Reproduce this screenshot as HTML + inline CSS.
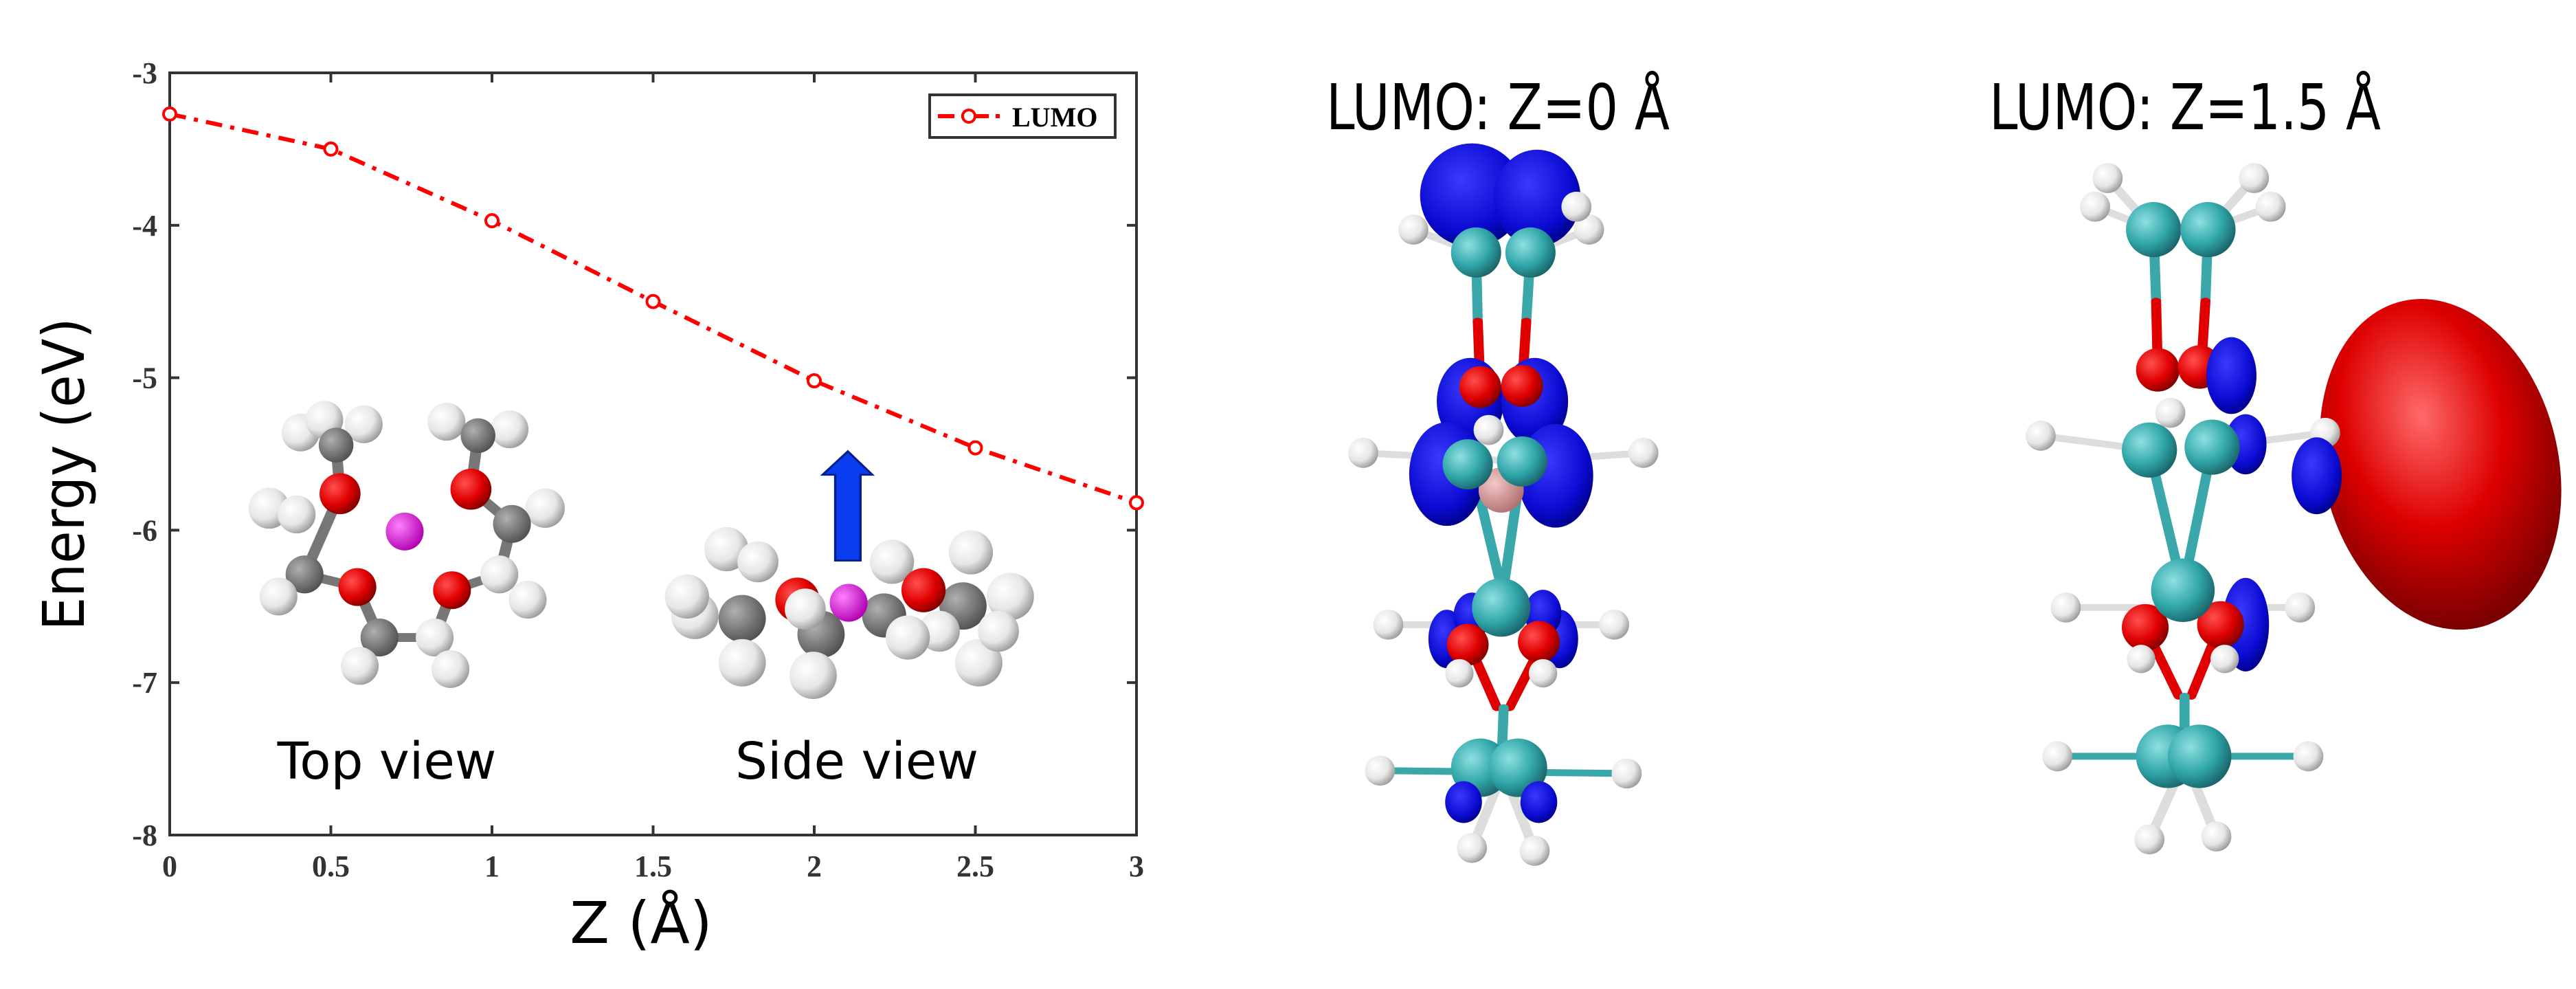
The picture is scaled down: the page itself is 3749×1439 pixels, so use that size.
<!DOCTYPE html>
<html><head><meta charset="utf-8"><style>
html,body{margin:0;padding:0;background:#fff;}
svg{display:block;}
</style></head><body>
<svg width="3749" height="1439" viewBox="0 0 3749 1439" xmlns="http://www.w3.org/2000/svg">
<defs>
<radialGradient id="gW" cx="35%" cy="35%" r="70%"><stop offset="0" stop-color="#ffffff"/><stop offset="0.6" stop-color="#e6e6e6"/><stop offset="1" stop-color="#9a9a9a"/></radialGradient>
<radialGradient id="gG" cx="35%" cy="35%" r="70%"><stop offset="0" stop-color="#b0b0b0"/><stop offset="1" stop-color="#505050"/></radialGradient>
<radialGradient id="gR" cx="35%" cy="35%" r="70%"><stop offset="0" stop-color="#ff5050"/><stop offset="0.6" stop-color="#e00000"/><stop offset="1" stop-color="#800000"/></radialGradient>
<radialGradient id="gM" cx="35%" cy="35%" r="70%"><stop offset="0" stop-color="#ff80ff"/><stop offset="1" stop-color="#b000b0"/></radialGradient>
<radialGradient id="gC" cx="35%" cy="35%" r="70%"><stop offset="0" stop-color="#8ee0e0"/><stop offset="0.6" stop-color="#2fa5a8"/><stop offset="1" stop-color="#1a6468"/></radialGradient>
<radialGradient id="gB" cx="40%" cy="35%" r="70%"><stop offset="0" stop-color="#3a3aff"/><stop offset="0.7" stop-color="#0a0ad0"/><stop offset="1" stop-color="#000080"/></radialGradient>
<radialGradient id="gBig" cx="45%" cy="35%" r="75%"><stop offset="0" stop-color="#ff6a6a"/><stop offset="0.45" stop-color="#dd0000"/><stop offset="1" stop-color="#5a0000"/></radialGradient>
<radialGradient id="gP" cx="35%" cy="35%" r="70%"><stop offset="0" stop-color="#f5c8c8"/><stop offset="1" stop-color="#b07070"/></radialGradient>
</defs>

<!-- ===== left inset molecules (zoom1 coords) ===== -->
<g transform="translate(1.4,0.4) scale(1.1476,0.918)">
 <g class="iso" stroke="#777" stroke-width="14" stroke-linecap="round">
  <polyline fill="none" points="425,705 430,782 385,910 452,930 480,1010 550,1010 572,935 632,910 648,830 596,775 605,690"/>
  <g stroke="none">
   <circle cx="380" cy="685" r="24" fill="url(#gW)"/><circle cx="410" cy="665" r="24" fill="url(#gW)"/><circle cx="460" cy="672" r="24" fill="url(#gW)"/>
   <circle cx="565" cy="668" r="24" fill="url(#gW)"/><circle cx="645" cy="680" r="24" fill="url(#gW)"/>
   <circle cx="425" cy="705" r="22" fill="url(#gG)"/><circle cx="605" cy="690" r="22" fill="url(#gG)"/>
   <circle cx="340" cy="805" r="26" fill="url(#gW)"/><circle cx="375" cy="815" r="24" fill="url(#gW)"/>
   <circle cx="430" cy="782" r="26" fill="url(#gR)"/><circle cx="596" cy="775" r="26" fill="url(#gR)"/>
   <circle cx="690" cy="805" r="25" fill="url(#gW)"/><circle cx="648" cy="830" r="24" fill="url(#gG)"/>
   <circle cx="385" cy="910" r="24" fill="url(#gG)"/><circle cx="352" cy="945" r="24" fill="url(#gW)"/>
   <circle cx="632" cy="910" r="24" fill="url(#gW)"/><circle cx="668" cy="950" r="24" fill="url(#gW)"/>
   <circle cx="452" cy="930" r="24" fill="url(#gR)"/><circle cx="572" cy="935" r="24" fill="url(#gR)"/>
   <circle cx="480" cy="1010" r="24" fill="url(#gG)"/><circle cx="550" cy="1010" r="24" fill="url(#gW)"/>
   <circle cx="455" cy="1055" r="24" fill="url(#gW)"/><circle cx="570" cy="1060" r="24" fill="url(#gW)"/>
   <circle cx="512" cy="842" r="24" fill="url(#gM)"/>
  </g>
 </g>
 <g class="iso">
  <circle cx="880" cy="975" r="30" fill="url(#gW)"/><circle cx="870" cy="945" r="28" fill="url(#gW)"/>
  <circle cx="920" cy="870" r="28" fill="url(#gW)"/><circle cx="960" cy="890" r="26" fill="url(#gW)"/>
  <circle cx="1230" cy="875" r="28" fill="url(#gW)"/><circle cx="1280" cy="945" r="30" fill="url(#gW)"/>
  <circle cx="1130" cy="890" r="28" fill="url(#gW)"/>
  <circle cx="940" cy="980" r="30" fill="url(#gG)"/><circle cx="1220" cy="960" r="30" fill="url(#gG)"/>
  <circle cx="1010" cy="950" r="28" fill="url(#gR)"/><circle cx="1170" cy="935" r="28" fill="url(#gR)"/>
  <circle cx="1120" cy="975" r="28" fill="url(#gG)"/><circle cx="1075" cy="955" r="24" fill="url(#gM)"/>
  <circle cx="1040" cy="1005" r="30" fill="url(#gG)"/><circle cx="1020" cy="965" r="26" fill="url(#gW)"/>
  <circle cx="1190" cy="1000" r="26" fill="url(#gW)"/><circle cx="1150" cy="1010" r="28" fill="url(#gW)"/>
  <circle cx="940" cy="1050" r="30" fill="url(#gW)"/><circle cx="1030" cy="1070" r="30" fill="url(#gW)"/>
  <circle cx="1240" cy="1050" r="30" fill="url(#gW)"/><circle cx="1265" cy="1000" r="26" fill="url(#gW)"/>
 </g>
 <path d="M1058,888 L1058,752 L1042,752 L1074,715 L1105,752 L1090,752 L1090,888 Z" fill="#0a3cf0" stroke="#05208a" stroke-width="3"/>
</g>

<!-- ===== chart ===== -->
<g id="chart"></g>
<text x="563" y="1133" font-family="'DejaVu Sans', 'Liberation Sans', sans-serif" font-size="74" text-anchor="middle" fill="#000">Top view</text>
<text x="1247" y="1133" font-family="'DejaVu Sans', 'Liberation Sans', sans-serif" font-size="74" text-anchor="middle" fill="#000">Side view</text>

<!-- ===== right panels (zoom5 coords) ===== -->
<text x="2180" y="188" font-family="'DejaVu Sans', 'Liberation Sans', sans-serif" font-size="92" text-anchor="middle" fill="#000" textLength="500" lengthAdjust="spacingAndGlyphs">LUMO: Z=0 Å</text>
<text x="3180" y="188" font-family="'DejaVu Sans', 'Liberation Sans', sans-serif" font-size="92" text-anchor="middle" fill="#000" textLength="570" lengthAdjust="spacingAndGlyphs">LUMO: Z=1.5 Å</text>

<g transform="translate(1850,80) scale(1.2173,0.833)">
 <g class="iso2">
  <g stroke-width="12" stroke-linecap="round">
   <line x1="245" y1="345" x2="247" y2="465" stroke="#3aa8aa"/><line x1="247" y1="465" x2="250" y2="580" stroke="#e00000"/>
   <line x1="310" y1="345" x2="305" y2="465" stroke="#3aa8aa"/><line x1="305" y1="465" x2="300" y2="580" stroke="#e00000"/>
   <line x1="240" y1="715" x2="280" y2="960" stroke="#3aa8aa"/><line x1="300" y1="710" x2="275" y2="960" stroke="#3aa8aa"/>
   <line x1="240" y1="1040" x2="270" y2="1140" stroke="#e00000"/><line x1="320" y1="1040" x2="285" y2="1140" stroke="#e00000"/>
   <line x1="278" y1="1140" x2="275" y2="1250" stroke="#3aa8aa"/>
   <line x1="110" y1="695" x2="300" y2="710" stroke="#ddd"/><line x1="445" y1="695" x2="300" y2="710" stroke="#ddd"/>
   <line x1="140" y1="995" x2="410" y2="995" stroke="#ddd"/>
   <line x1="130" y1="1250" x2="425" y2="1255" stroke="#3aa8aa"/>
   <line x1="240" y1="1385" x2="275" y2="1260" stroke="#ddd"/><line x1="315" y1="1390" x2="280" y2="1260" stroke="#ddd"/>
   <line x1="170" y1="305" x2="245" y2="345" stroke="#ddd"/><line x1="380" y1="305" x2="310" y2="345" stroke="#ddd"/>
  </g>
  <ellipse cx="240" cy="245" rx="62" ry="62" fill="url(#gB)"/><ellipse cx="318" cy="250" rx="52" ry="58" fill="url(#gB)"/>
  <circle cx="170" cy="305" r="18" fill="url(#gW)"/><circle cx="380" cy="305" r="18" fill="url(#gW)"/><circle cx="365" cy="265" r="18" fill="url(#gW)"/>
  <circle cx="245" cy="345" r="30" fill="url(#gC)"/><circle cx="310" cy="345" r="30" fill="url(#gC)"/>
  <ellipse cx="238" cy="605" rx="40" ry="52" fill="url(#gB)"/><ellipse cx="315" cy="605" rx="40" ry="52" fill="url(#gB)"/>
  <circle cx="250" cy="580" r="25" fill="url(#gR)"/><circle cx="300" cy="578" r="25" fill="url(#gR)"/>
  <ellipse cx="210" cy="732" rx="45" ry="62" fill="url(#gB)"/><ellipse cx="340" cy="735" rx="45" ry="62" fill="url(#gB)"/>
  <circle cx="275" cy="760" r="27" fill="url(#gP)"/>
  <circle cx="235" cy="715" r="30" fill="url(#gC)"/><circle cx="300" cy="710" r="30" fill="url(#gC)"/>
  <circle cx="110" cy="695" r="18" fill="url(#gW)"/><circle cx="445" cy="695" r="18" fill="url(#gW)"/><circle cx="260" cy="655" r="18" fill="url(#gW)"/>
  <circle cx="140" cy="995" r="18" fill="url(#gW)"/><circle cx="410" cy="995" r="18" fill="url(#gW)"/>
  <ellipse cx="210" cy="1020" rx="22" ry="35" fill="url(#gB)"/><ellipse cx="345" cy="1020" rx="22" ry="35" fill="url(#gB)"/>
  <ellipse cx="240" cy="980" rx="22" ry="28" fill="url(#gB)"/><ellipse cx="325" cy="975" rx="22" ry="28" fill="url(#gB)"/>
  <circle cx="235" cy="1030" r="25" fill="url(#gR)"/><circle cx="320" cy="1025" r="25" fill="url(#gR)"/>
  <circle cx="275" cy="965" r="35" fill="url(#gC)"/>
  <circle cx="225" cy="1080" r="17" fill="url(#gW)"/><circle cx="325" cy="1080" r="17" fill="url(#gW)"/>
  <circle cx="250" cy="1245" r="35" fill="url(#gC)"/><circle cx="295" cy="1245" r="35" fill="url(#gC)"/>
  <circle cx="130" cy="1250" r="18" fill="url(#gW)"/><circle cx="425" cy="1255" r="18" fill="url(#gW)"/>
  <ellipse cx="230" cy="1305" rx="22" ry="25" fill="url(#gB)"/><ellipse cx="320" cy="1305" rx="22" ry="25" fill="url(#gB)"/>
  <circle cx="240" cy="1385" r="18" fill="url(#gW)"/><circle cx="315" cy="1390" r="18" fill="url(#gW)"/>
 </g>
 <ellipse cx="1398" cy="715" rx="142" ry="290" fill="url(#gBig)" transform="rotate(-6 1398 715)"/>
 <g class="iso2">
  <g stroke-width="12" stroke-linecap="round">
   <line x1="1000" y1="215" x2="1055" y2="305" stroke="#ddd"/><line x1="985" y1="265" x2="1055" y2="305" stroke="#ddd"/>
   <line x1="1175" y1="215" x2="1120" y2="305" stroke="#ddd"/><line x1="1195" y1="265" x2="1120" y2="305" stroke="#ddd"/>
   <line x1="1055" y1="305" x2="1058" y2="430" stroke="#3aa8aa"/><line x1="1058" y1="430" x2="1060" y2="550" stroke="#e00000"/>
   <line x1="1120" y1="305" x2="1117" y2="430" stroke="#3aa8aa"/><line x1="1117" y1="430" x2="1112" y2="545" stroke="#e00000"/>
   <line x1="920" y1="665" x2="1050" y2="690" stroke="#ddd"/><line x1="1260" y1="660" x2="1125" y2="685" stroke="#ddd"/>
   <line x1="1050" y1="690" x2="1090" y2="935" stroke="#3aa8aa"/><line x1="1125" y1="685" x2="1090" y2="935" stroke="#3aa8aa"/>
   <line x1="950" y1="965" x2="1230" y2="965" stroke="#ddd"/>
   <line x1="1045" y1="1000" x2="1085" y2="1120" stroke="#e00000"/><line x1="1135" y1="995" x2="1100" y2="1120" stroke="#e00000"/>
   <line x1="1092" y1="1120" x2="1092" y2="1225" stroke="#3aa8aa"/>
   <line x1="940" y1="1225" x2="1240" y2="1225" stroke="#3aa8aa"/>
   <line x1="1050" y1="1370" x2="1090" y2="1240" stroke="#ddd"/><line x1="1130" y1="1365" x2="1095" y2="1240" stroke="#ddd"/>
  </g>
  <circle cx="1000" cy="215" r="18" fill="url(#gW)"/><circle cx="985" cy="265" r="18" fill="url(#gW)"/>
  <circle cx="1175" cy="215" r="18" fill="url(#gW)"/><circle cx="1195" cy="265" r="18" fill="url(#gW)"/>
  <circle cx="1055" cy="305" r="33" fill="url(#gC)"/><circle cx="1120" cy="305" r="33" fill="url(#gC)"/>
  <circle cx="1060" cy="550" r="26" fill="url(#gR)"/><circle cx="1110" cy="545" r="26" fill="url(#gR)"/>
  <ellipse cx="1148" cy="560" rx="30" ry="46" fill="url(#gB)"/>
  <ellipse cx="1165" cy="680" rx="25" ry="36" fill="url(#gB)"/>
  <circle cx="1050" cy="690" r="33" fill="url(#gC)"/><circle cx="1125" cy="685" r="33" fill="url(#gC)"/>
  <circle cx="920" cy="665" r="18" fill="url(#gW)"/><circle cx="1075" cy="625" r="18" fill="url(#gW)"/><circle cx="1260" cy="660" r="18" fill="url(#gW)"/>
  <ellipse cx="1250" cy="735" rx="30" ry="46" fill="url(#gB)"/>
  <circle cx="950" cy="965" r="18" fill="url(#gW)"/><circle cx="1230" cy="965" r="18" fill="url(#gW)"/>
  <ellipse cx="1165" cy="995" rx="28" ry="56" fill="url(#gB)"/>
  <circle cx="1045" cy="1000" r="28" fill="url(#gR)"/><circle cx="1135" cy="995" r="28" fill="url(#gR)"/>
  <circle cx="1090" cy="935" r="38" fill="url(#gC)"/>
  <circle cx="1040" cy="1055" r="17" fill="url(#gW)"/><circle cx="1140" cy="1055" r="17" fill="url(#gW)"/>
  <circle cx="1072" cy="1225" r="38" fill="url(#gC)"/><circle cx="1110" cy="1225" r="38" fill="url(#gC)"/>
  <circle cx="940" cy="1225" r="18" fill="url(#gW)"/><circle cx="1240" cy="1225" r="18" fill="url(#gW)"/>
  <circle cx="1050" cy="1370" r="18" fill="url(#gW)"/><circle cx="1130" cy="1365" r="18" fill="url(#gW)"/>
 </g>
</g>
</svg>
<script>
const zValues = [0, 0.5, 1, 1.5, 2, 2.5, 3];
const lumoEnergy = [-3.27, -3.50, -3.97, -4.50, -5.02, -5.46, -5.82];
const xTicks = [0, 0.5, 1, 1.5, 2, 2.5, 3];
const xTickLabels = ["0", "0.5", "1", "1.5", "2", "2.5", "3"];
const yTicks = [-3, -4, -5, -6, -7, -8];
const yTickLabels = ["-3", "-4", "-5", "-6", "-7", "-8"];

const NS = "http://www.w3.org/2000/svg";

// correct sphere aspect for anisotropic group transforms
function fixAspect(sel, k) {
  document.querySelectorAll(sel).forEach(grp => {
    grp.querySelectorAll('circle').forEach(c => {
      const e = document.createElementNS(NS, 'ellipse');
      e.setAttribute('cx', c.getAttribute('cx'));
      e.setAttribute('cy', c.getAttribute('cy'));
      e.setAttribute('rx', c.getAttribute('r'));
      e.setAttribute('ry', parseFloat(c.getAttribute('r')) * k);
      e.setAttribute('fill', c.getAttribute('fill'));
      c.replaceWith(e);
    });
    grp.querySelectorAll('ellipse').forEach(e => {
      if (!e.dataset.fixed) {
        e.setAttribute('ry', parseFloat(e.getAttribute('ry')) * (e.getAttribute('rx') === e.getAttribute('ry') ? 1 : 1) );
      }
    });
  });
}
fixAspect('.iso', 1.25);
// right panels: circles converted, blobs scaled too
document.querySelectorAll('.iso2').forEach(grp => {
  grp.querySelectorAll('ellipse').forEach(e => {
    e.setAttribute('ry', parseFloat(e.getAttribute('ry')) * 1.46);
  });
  grp.querySelectorAll('circle').forEach(c => {
    const e = document.createElementNS(NS, 'ellipse');
    e.setAttribute('cx', c.getAttribute('cx'));
    e.setAttribute('cy', c.getAttribute('cy'));
    e.setAttribute('rx', c.getAttribute('r'));
    e.setAttribute('ry', parseFloat(c.getAttribute('r')) * 1.46);
    e.setAttribute('fill', c.getAttribute('fill'));
    c.replaceWith(e);
  });
});

const L = 247, R = 1654, T = 106, B = 1215;
const xScale = v => L + (v - 0) / 3 * (R - L);
const yScale = v => T + (-3 - v) / 5 * (B - T);
const g = document.getElementById('chart');
function mk(tag, attrs, parent) {
  const el = document.createElementNS(NS, tag);
  for (const k in attrs) el.setAttribute(k, attrs[k]);
  (parent || g).appendChild(el);
  return el;
}
const frame = mk('rect', {x: L, y: T, width: R - L, height: B - T, fill: 'none', stroke: '#333', 'stroke-width': 4});



xTicks.forEach((v, i) => {
  const x = xScale(v);
  const t1 = mk('line', {x1: x, y1: B, x2: x, y2: B - 14, stroke: '#333', 'stroke-width': 4});
  
  
  const t2 = mk('line', {x1: x, y1: T, x2: x, y2: T + 14, stroke: '#333', 'stroke-width': 4});
  
  
  const lb = mk('text', {x: x, y: 1275, 'text-anchor': 'middle', 'font-family': "'Liberation Serif', serif", 'font-weight': 'bold', 'font-size': 44, fill: '#333'});
  lb.textContent = xTickLabels[i];
  
  
});
yTicks.forEach((v, i) => {
  const y = yScale(v);
  const t1 = mk('line', {x1: L, y1: y, x2: L + 14, y2: y, stroke: '#333', 'stroke-width': 4});
  
  
  const t2 = mk('line', {x1: R, y1: y, x2: R - 14, y2: y, stroke: '#333', 'stroke-width': 4});
  
  
  const lb = mk('text', {x: 229, y: y + 15, 'text-anchor': 'end', 'font-family': "'Liberation Serif', serif", 'font-weight': 'bold', 'font-size': 44, fill: '#333'});
  lb.textContent = yTickLabels[i];
  
  
});

const pts = zValues.map((z, i) => xScale(z) + ',' + yScale(lumoEnergy[i])).join(' ');
const line = mk('polyline', {points: pts, fill: 'none', stroke: '#ff0000', 'stroke-width': 6, 'stroke-dasharray': '24 12 6 12'});


zValues.forEach((z, i) => {
  const c = mk('circle', {cx: xScale(z), cy: yScale(lumoEnergy[i]), r: 9, fill: '#fff', stroke: '#ff0000', 'stroke-width': 4});
  
  
});

const lg = mk('g', {});


mk('rect', {x: 1353, y: 138, width: 270, height: 62, fill: '#fff', stroke: '#333', 'stroke-width': 4}, lg);
mk('line', {x1: 1365, y1: 169, x2: 1457, y2: 169, stroke: '#ff0000', 'stroke-width': 6, 'stroke-dasharray': '24 10 6 10'}, lg);
mk('circle', {cx: 1410, cy: 169, r: 9, fill: '#fff', stroke: '#ff0000', 'stroke-width': 4}, lg);
const lt = mk('text', {x: 1473, y: 184, 'font-family': "'Liberation Serif', serif", 'font-weight': 'bold', 'font-size': 40, fill: '#000'}, lg);
lt.textContent = 'LUMO';



const xt = mk('text', {x: 933, y: 1372, 'text-anchor': 'middle', 'font-family': "'DejaVu Sans', 'Liberation Sans', sans-serif", 'font-size': 84, fill: '#000'});
xt.textContent = 'Z (Å)';


const yt = mk('text', {x: 0, y: 0, 'text-anchor': 'middle', 'font-family': "'DejaVu Sans', 'Liberation Sans', sans-serif", 'font-size': 84, fill: '#000', transform: 'translate(122,690) rotate(-90)', textLength: 455, lengthAdjust: 'spacingAndGlyphs'});
yt.textContent = 'Energy (eV)';


</script>
</body></html>
